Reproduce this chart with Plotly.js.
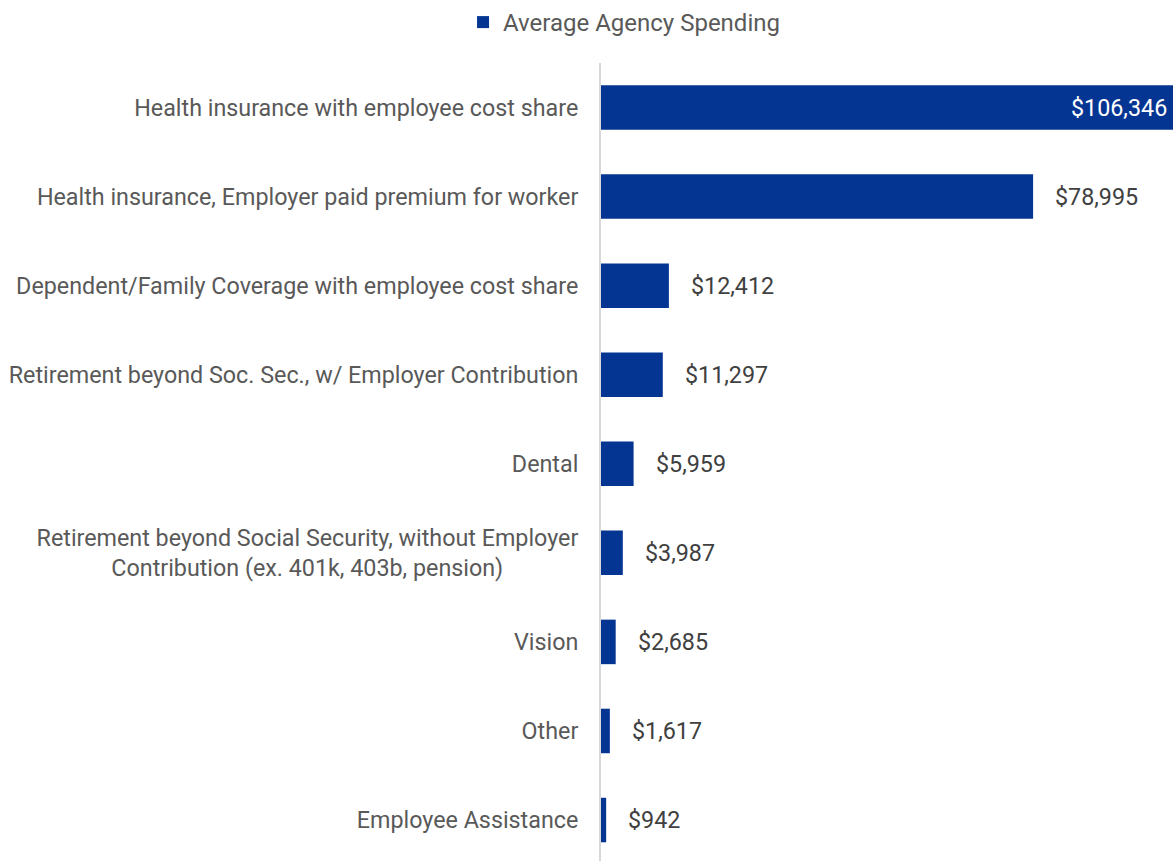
<!DOCTYPE html>
<html>
<head>
<meta charset="utf-8">
<script src="https://cdn.plot.ly/plotly-3.0.1.min.js"></script>
<style>html,body{margin:0;padding:0;background:#fff;}#chart{width:1173px;height:861px;}</style>
</head>
<body>
<div id="chart"></div>
<script>
const categories = [
  "Health insurance with employee cost share",
  "Health insurance, Employer paid premium for worker",
  "Dependent/Family Coverage with employee cost share",
  "Retirement beyond Soc. Sec., w/ Employer Contribution",
  "Dental",
  "Retirement beyond Social Security, without Employer<br>Contribution (ex. 401k, 403b, pension)\u00a0\u00a0\u00a0\u00a0\u00a0\u00a0\u00a0\u00a0\u00a0\u00a0\u00a0\u00a0\u00a0",
  "Vision",
  "Other",
  "Employee Assistance"
];
const values = [106346, 78995, 12412, 11297, 5959, 3987, 2685, 1617, 942];
const seriesName = "Average Agency Spending";

const fmt = v => "$" + v.toLocaleString("en-US");
const barColor = "#043592";
const xMax = 104570;
const FS = 23.3;

const annotations = values.map((v, i) => {
  if (i === 0) {
    return {x: 1, xref: "paper", y: categories[i], yref: "y", text: fmt(v), showarrow: false,
      xanchor: "right", xshift: -4, font: {family: "Roboto", size: FS, color: "#ffffff"}};
  }
  return {x: v, xref: "x", y: categories[i], yref: "y", text: fmt(v), showarrow: false,
    xanchor: "left", xshift: 20, font: {family: "Roboto", size: FS, color: "#404040"}};
});

Plotly.newPlot("chart", [{
  type: "bar",
  orientation: "h",
  y: categories,
  x: values,
  name: seriesName,
  marker: {color: barColor},
  showlegend: true,
  hoverinfo: "skip"
}], {
  width: 1173, height: 861,
  margin: {l: 601, r: 0, t: 62.5, b: 0, pad: 0},
  paper_bgcolor: "#fff", plot_bgcolor: "#fff",
  font: {family: "Roboto", size: FS, color: "#595959"},
  bargap: 0.5,
  showlegend: true,
  legend: {orientation: "h", xref: "container", x: 0.532, xanchor: "center", y: 1.0, yanchor: "top", yref: "container",
    itemwidth: 30, font: {family: "Roboto", size: 24, color: "#595959"}},
  xaxis: {range: [0, xMax], showgrid: false, zeroline: false, showticklabels: false, showline: false, fixedrange: true},
  yaxis: {type: "category", range: [8.46, -0.5], showgrid: false, zeroline: false,
    showline: true, linecolor: "#d9d9d9", linewidth: 2, ticks: "", ticklabelstandoff: 16,
    tickfont: {family: "Roboto", size: FS, color: "#595959"}},
  annotations: annotations
}, {displayModeBar: false, staticPlot: true});
</script>
</body>
</html>
